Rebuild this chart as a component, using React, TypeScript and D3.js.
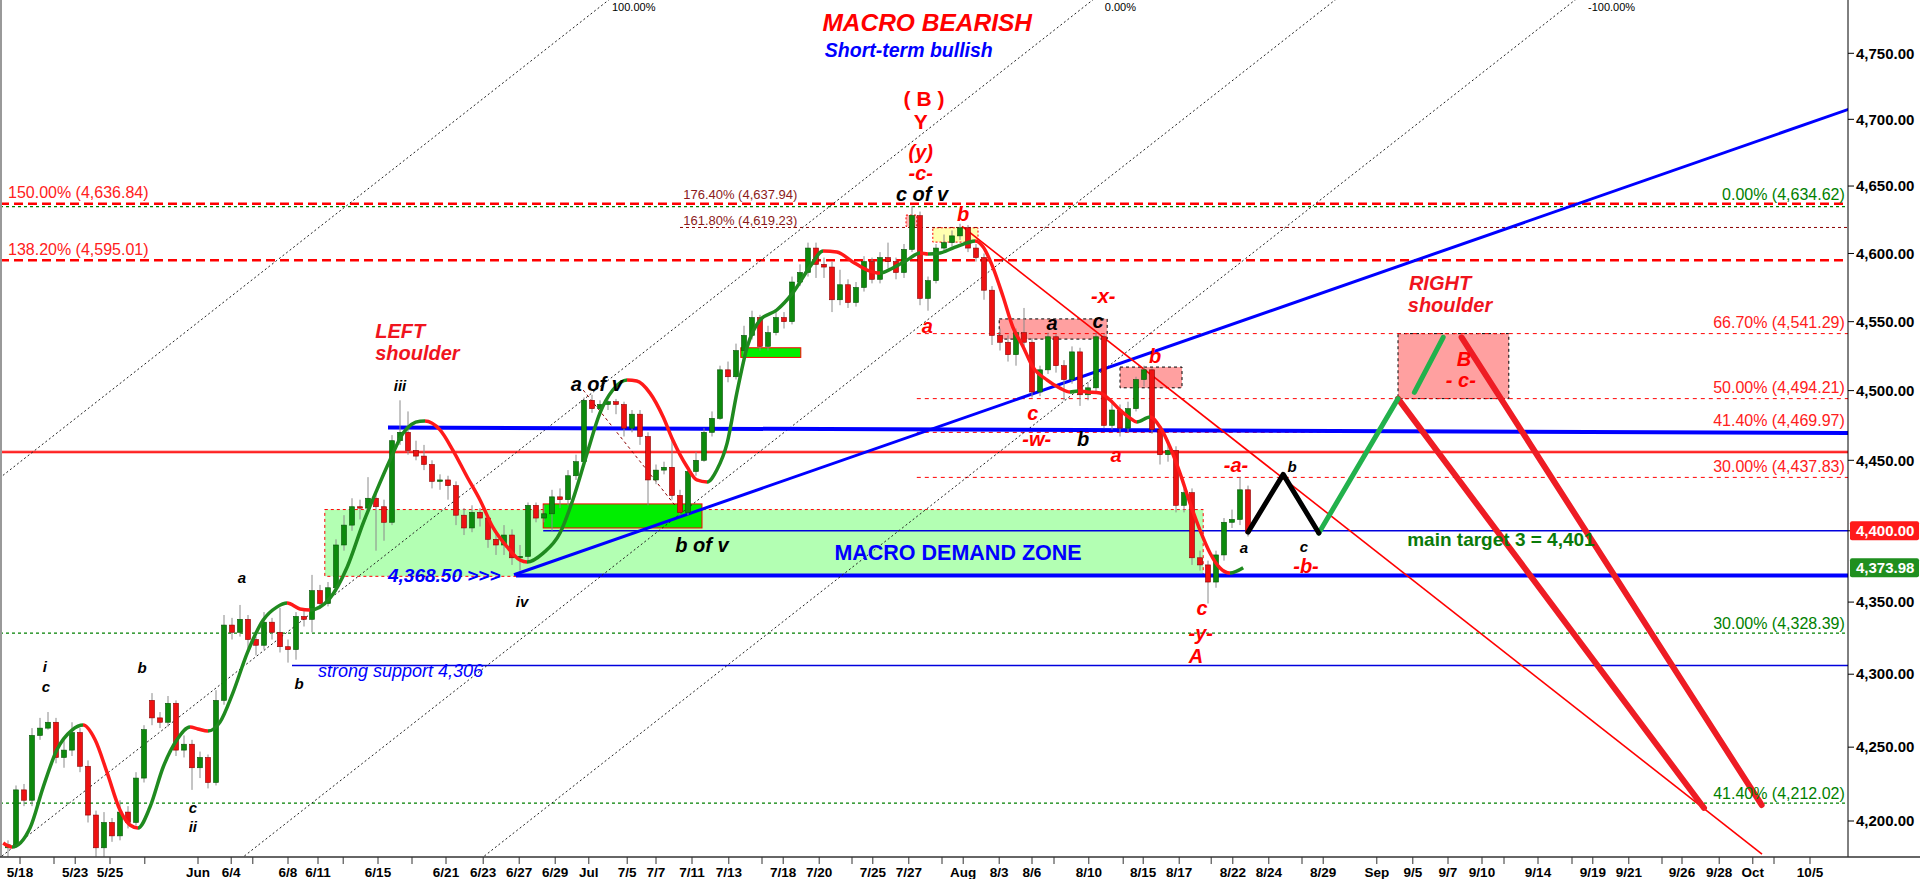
import React, { useEffect, useRef } from 'react';
import * as d3 from 'd3';

// ---- data ----
// candles, one per slot: [open, high, low, close]
const candles: [number, number, number, number][] = [
  [4182, 4187, 4176, 4184], [4184, 4224, 4182, 4221], [4221, 4225, 4210, 4214], [4214, 4263, 4210, 4258],
  [4258, 4270, 4255, 4263], [4263, 4274, 4262, 4267], [4267, 4270, 4239, 4243], [4243, 4255, 4236, 4248],
  [4248, 4267, 4244, 4260], [4260, 4263, 4233, 4237], [4237, 4241, 4199, 4204], [4204, 4207, 4176, 4182],
  [4182, 4206, 4176, 4199], [4199, 4202, 4186, 4190], [4190, 4214, 4187, 4206], [4206, 4210, 4195, 4199],
  [4199, 4233, 4197, 4229], [4229, 4265, 4226, 4262], [4282, 4287, 4265, 4270], [4270, 4274, 4263, 4267],
  [4267, 4285, 4264, 4280], [4280, 4282, 4244, 4248], [4248, 4258, 4243, 4252], [4252, 4255, 4221, 4236],
  [4236, 4247, 4229, 4243], [4243, 4245, 4222, 4226], [4226, 4289, 4224, 4282], [4282, 4341, 4279, 4334],
  [4334, 4339, 4324, 4329], [4329, 4348, 4326, 4338], [4338, 4341, 4318, 4324], [4324, 4326, 4313, 4320],
  [4320, 4343, 4317, 4336], [4336, 4339, 4324, 4329], [4329, 4346, 4315, 4319], [4319, 4324, 4308, 4317],
  [4317, 4343, 4310, 4340], [4340, 4345, 4333, 4338], [4338, 4369, 4329, 4358], [4358, 4362, 4346, 4349],
  [4349, 4364, 4347, 4360], [4360, 4394, 4357, 4390], [4390, 4411, 4386, 4404], [4404, 4423, 4400, 4417],
  [4417, 4422, 4408, 4416], [4416, 4438, 4415, 4423], [4423, 4429, 4386, 4417], [4417, 4422, 4393, 4406],
  [4406, 4468, 4404, 4464], [4464, 4493, 4461, 4470], [4470, 4485, 4454, 4457], [4457, 4464, 4450, 4453],
  [4453, 4461, 4443, 4447], [4447, 4450, 4430, 4435], [4435, 4440, 4429, 4436], [4436, 4439, 4422, 4432],
  [4432, 4435, 4404, 4411], [4411, 4416, 4397, 4402], [4402, 4418, 4399, 4413], [4413, 4416, 4403, 4409],
  [4409, 4411, 4388, 4394], [4394, 4399, 4383, 4390], [4390, 4404, 4383, 4397], [4397, 4401, 4376, 4381],
  [4381, 4390, 4372, 4382], [4382, 4420, 4379, 4418], [4418, 4420, 4406, 4409], [4409, 4418, 4406, 4412],
  [4412, 4429, 4400, 4424], [4424, 4430, 4416, 4422], [4422, 4443, 4418, 4439], [4439, 4454, 4436, 4449],
  [4449, 4495, 4446, 4493], [4493, 4497, 4484, 4487], [4487, 4493, 4485, 4490], [4490, 4493, 4486, 4492],
  [4492, 4494, 4483, 4490], [4490, 4492, 4467, 4473], [4473, 4486, 4470, 4483], [4483, 4486, 4461, 4467],
  [4467, 4470, 4418, 4436], [4436, 4447, 4433, 4443], [4443, 4449, 4440, 4445], [4445, 4467, 4422, 4425],
  [4425, 4429, 4411, 4413], [4413, 4445, 4411, 4442], [4442, 4456, 4439, 4450], [4450, 4473, 4449, 4470],
  [4470, 4485, 4467, 4480], [4480, 4518, 4479, 4515], [4515, 4521, 4506, 4510], [4510, 4534, 4508, 4529],
  [4529, 4547, 4526, 4540], [4540, 4558, 4537, 4553], [4553, 4555, 4529, 4532], [4532, 4547, 4529, 4542],
  [4542, 4558, 4540, 4553], [4553, 4557, 4545, 4550], [4550, 4583, 4548, 4579], [4579, 4592, 4576, 4586],
  [4586, 4608, 4583, 4604], [4604, 4608, 4582, 4592], [4592, 4597, 4582, 4590], [4590, 4594, 4557, 4566],
  [4566, 4588, 4562, 4577], [4577, 4581, 4560, 4564], [4564, 4579, 4561, 4575], [4575, 4598, 4572, 4594],
  [4594, 4597, 4578, 4581], [4581, 4601, 4578, 4597], [4597, 4608, 4589, 4594], [4594, 4597, 4581, 4586],
  [4586, 4607, 4582, 4603], [4603, 4635, 4601, 4628], [4628, 4631, 4562, 4567], [4567, 4583, 4558, 4580],
  [4580, 4607, 4578, 4604], [4604, 4614, 4601, 4608], [4608, 4617, 4605, 4613], [4613, 4622, 4610, 4619],
  [4619, 4621, 4601, 4604], [4604, 4607, 4594, 4597], [4597, 4600, 4566, 4573], [4573, 4576, 4533, 4540],
  [4540, 4545, 4529, 4535], [4535, 4540, 4521, 4526], [4526, 4545, 4518, 4542], [4542, 4560, 4532, 4535],
  [4535, 4538, 4495, 4499], [4499, 4518, 4496, 4515], [4515, 4542, 4512, 4539], [4539, 4541, 4513, 4518],
  [4518, 4522, 4493, 4508], [4508, 4532, 4505, 4528], [4528, 4531, 4489, 4497], [4497, 4506, 4493, 4502],
  [4502, 4542, 4499, 4539], [4539, 4541, 4473, 4475], [4475, 4493, 4472, 4486], [4486, 4490, 4467, 4473],
  [4473, 4492, 4470, 4487], [4487, 4510, 4485, 4508], [4508, 4518, 4503, 4515], [4515, 4516, 4469, 4472],
  [4472, 4475, 4447, 4454], [4454, 4462, 4449, 4457], [4457, 4460, 4413, 4418], [4418, 4430, 4413, 4427],
  [4427, 4430, 4376, 4381], [4381, 4386, 4372, 4376], [4376, 4379, 4349, 4364], [4364, 4386, 4360, 4383],
  [4383, 4409, 4379, 4406], [4406, 4415, 4402, 4408], [4408, 4438, 4404, 4429], [4429, 4432, 4396, 4399],
];

// smoothed trend average: [slot, value]
const avgLine: [number, number][] = [
  [-0.6, 4185.2], [0.5, 4182.5], [2.75, 4195.3], [4.4, 4222.9], [6.1, 4248.1], [8, 4261.7], [9.4, 4265.1],
  [10.9, 4254.9], [12.4, 4232.5], [14, 4207.4], [15.25, 4197.3], [16.25, 4195.3], [17.75, 4209.4],
  [19.4, 4236.5], [21.1, 4254.9], [22.75, 4263.7], [23.75, 4262.4], [25, 4261], [26.5, 4267.1],
  [28.1, 4287], [29.9, 4314.6], [31.9, 4337.5], [33.6, 4346.5], [34.9, 4349.3], [36.5, 4345.2],
  [37.75, 4344.5], [40.25, 4352.8], [42.4, 4374.5], [44.4, 4405.5], [46.1, 4428.8], [47.75, 4450.2],
  [49.4, 4469.5], [51.5, 4478], [52.1, 4478.1], [54, 4471.7], [55.6, 4457.3], [57.4, 4438.1], [59, 4421.8],
  [60.6, 4402.6], [62.4, 4388.6], [64, 4379.4], [64.9, 4378], [66.9, 4384.3], [69, 4398.4], [70.6, 4421.8],
  [72.4, 4455.2], [74, 4483.9], [75.6, 4500.4], [77.4, 4507.6], [78.6, 4506.9], [80.25, 4498.2],
  [81.9, 4481], [83.1, 4464.5], [84.9, 4445.2], [86.1, 4436], [87.4, 4434.6], [88.6, 4443.1],
  [89.9, 4462.4], [91.1, 4498.2], [92.4, 4531.6], [94, 4551.2], [96.1, 4558.5], [98.1, 4571],
  [100.25, 4590.3], [101.9, 4601.8], [103.6, 4601.1], [105.6, 4593.8], [107.4, 4587.8], [109, 4585.6],
  [110.6, 4589.3], [112.4, 4595.2], [114, 4600.4], [115, 4599.7], [116.5, 4600.4], [118.1, 4604],
  [119.9, 4607.8], [120.9, 4609.2], [121.9, 4604.8], [123.1, 4590], [124.4, 4568], [125.6, 4546.1],
  [126.9, 4531.6], [128.1, 4517.1], [129.9, 4507.6], [131.5, 4501.8], [132.75, 4499], [133.75, 4499.7],
  [134.9, 4499], [136.5, 4498.2], [137.75, 4493.2], [139, 4486], [140.25, 4480.2], [141.1, 4477.4],
  [142.75, 4481], [144, 4473.8], [145.25, 4459.5], [146.5, 4440.9], [147.75, 4419.6], [149, 4400.5],
  [150.25, 4384.4], [151.5, 4373.8], [152.75, 4370.3], [154.4, 4373.98],
];

const xTicks: [string, number][] = [
  ['5/18', 1.5], ['', 5.75], ['5/23', 8.4], ['5/25', 12.75], ['', 17.1], ['Jun', 23.75], ['6/4', 27.9],
  ['', 30.6], ['6/8', 35], ['6/11', 38.75], ['', 41.9], ['6/15', 46.25], ['', 50.5], ['6/21', 54.75],
  ['6/23', 59.4], ['6/27', 63.9], ['6/29', 68.4], ['Jul', 72.6], ['7/5', 77.4], ['7/7', 81], ['7/11', 85.5],
  ['7/13', 90.1], ['', 94.25], ['7/18', 96.9], ['7/20', 101.4], ['', 105.5], ['7/25', 108.1], ['7/27', 112.6],
  ['', 116.75], ['Aug', 119.4], ['8/3', 123.9], ['8/6', 128], ['', 130.75], ['8/10', 135.1], ['', 139.4],
  ['8/15', 141.9], ['8/17', 146.4], ['', 150.4], ['8/22', 153.1], ['8/24', 157.6], ['', 161.75],
  ['8/29', 164.4], ['Sep', 171.1], ['9/5', 175.6], ['9/7', 180], ['9/10', 184.25], ['', 187],
  ['9/14', 191.25], ['', 195.5], ['9/19', 198.1], ['9/21', 202.6], ['', 206.75], ['9/26', 209.25],
  ['9/28', 213.9], ['Oct', 218.1], ['', 220.75], ['10/5', 225.25],
];

const yTicks = [4200, 4250, 4300, 4350, 4400, 4450, 4500, 4550, 4600, 4650, 4700, 4750];

// horizontal levels: [value, starting slot, kind]
const levels: [number, number, string][] = [
  [4636.84, -1, 'redDash'], [4595.01, -1, 'redDash'], [4634.62, -1, 'greenDot'],
  [4328.39, -1, 'greenDot'], [4212.02, -1, 'greenDot'], [4619.23, 84, 'darkDot'],
  [4541.29, 113.6, 'redThin'], [4494.21, 113.6, 'redThin'], [4469.97, 113.6, 'redThin'],
  [4437.83, 113.6, 'redThin'], [4456, -1, 'redSolid'], [4400, 66.9, 'blueThin'],
  [4368.5, 63.5, 'blueThick'], [4306, 35.5, 'blueThin'],
];

// zones: [slot from, slot to, top value, bottom value, kind]
const zones: [number, number, number, number, string][] = [
  [39.6, 149.4, 4415, 4368, 'demand'], [66.9, 86.75, 4419, 4402, 'bright'],
  [91.6, 99.1, 4531, 4524, 'bright'], [123.9, 137.4, 4552, 4537.3, 'pink'],
  [139, 146.75, 4517, 4502, 'pink'], [173.75, 187.6, 4541.29, 4494.21, 'pink'],
  [112.25, 113.6, 4628.4, 4620, 'pinkRed'], [115.6, 121.25, 4619, 4608.4, 'yellow'],
];

// straight lines: [[slot, value], [slot, value], kind]
const segments: [[number, number], [number, number], string][] = [
  [[77, 4800], [-62.8, 4170], 'grayDot'], [[137.5, 4800], [-2.3, 4170], 'grayDot'],
  [[167.8, 4800], [28, 4170], 'grayDot'], [[197.8, 4800], [58, 4170], 'grayDot'],
  [[71.9, 4500.4], [83.4, 4417.8], 'darkDot'],
  [[47.5, 4473.5], [230, 4469.5], 'blueThick'],
  [[63.25, 4369.1], [230.1, 4707.6], 'blueMed'],
  [[119.25, 4620], [219.25, 4177.8], 'redTrend'],
];

// projected path
const blackPath: [number, number][] = [[155, 4399], [159.4, 4440], [163.85, 4398.4]];
const greenLegs: [[number, number], [number, number]][] = [
  [[163.85, 4398.4], [173.75, 4494.2]], [[175.8, 4498.7], [179.4, 4538.6]],
];
const redLegs: [[number, number], [number, number]][] = [
  [[173.75, 4494.2], [212, 4208.8]], [[181.7, 4538.6], [219.2, 4210.8]],
];

const notes: { t: string; s: number; p: number; k: string; a?: string }[] = [
  { t: 'MACRO BEARISH', s: 114.9, p: 4767, k: 'title' },
  { t: 'Short-term bullish', s: 112.6, p: 4747.2, k: 'sub' },
  { t: '( B )', s: 114.5, p: 4710, k: 'big' },
  { t: 'Y', s: 114.1, p: 4692.7, k: 'big' },
  { t: '(y)', s: 114.1, p: 4670.2, k: 'red' },
  { t: '-c-', s: 114.1, p: 4654.5, k: 'red' },
  { t: 'c of v', s: 114.25, p: 4638.9, k: 'black' },
  { t: 'b', s: 119.4, p: 4624, k: 'red' },
  { t: '176.40% (4,637.94)', s: 84.4, p: 4640.3, k: 'fibDark', a: 'start' },
  { t: '161.80% (4,619.23)', s: 84.4, p: 4621, k: 'fibDark', a: 'start' },
  { t: '150.00% (4,636.84)', s: 0, p: 4641.1, k: 'fibRed', a: 'start' },
  { t: '138.20% (4,595.01)', s: 0, p: 4598.9, k: 'fibRed', a: 'start' },
  { t: '0.00% (4,634.62)', s: 229.6, p: 4639.6, k: 'fibGreen', a: 'end' },
  { t: '66.70% (4,541.29)', s: 229.6, p: 4545.4, k: 'fibRed', a: 'end' },
  { t: '50.00% (4,494.21)', s: 229.6, p: 4498.2, k: 'fibRed', a: 'end' },
  { t: '41.40% (4,469.97)', s: 229.6, p: 4474.5, k: 'fibRed', a: 'end' },
  { t: '30.00% (4,437.83)', s: 229.6, p: 4441.7, k: 'fibRed', a: 'end' },
  { t: '30.00% (4,328.39)', s: 229.6, p: 4331.3, k: 'fibGreen', a: 'end' },
  { t: '41.40% (4,212.02)', s: 229.6, p: 4214.8, k: 'fibGreen', a: 'end' },
  { t: 'RIGHT', s: 179, p: 4573.1, k: 'shoulder' },
  { t: 'shoulder', s: 180.25, p: 4557, k: 'shoulder' },
  { t: 'B', s: 182, p: 4517.8, k: 'red' },
  { t: '- c-', s: 181.6, p: 4502.6, k: 'red' },
  { t: 'main target 3 = 4,401', s: 174.9, p: 4389.3, k: 'target', a: 'start' },
  { t: 'b', s: 160.5, p: 4441.7, k: 'small' },
  { t: 'c', s: 162, p: 4385.1, k: 'small' },
  { t: '-b-', s: 162.25, p: 4370.3, k: 'red' },
  { t: 'a', s: 154.5, p: 4384.4, k: 'small' },
  { t: '-a-', s: 153.5, p: 4441.7, k: 'red' },
  { t: 'c', s: 149.25, p: 4341, k: 'red' },
  { t: '-y-', s: 149.1, p: 4323.6, k: 'red' },
  { t: 'A', s: 148.5, p: 4307.7, k: 'red' },
  { t: '-x-', s: 136.9, p: 4563.6, k: 'red' },
  { t: 'a', s: 130.5, p: 4543.9, k: 'black' },
  { t: 'c', s: 136.25, p: 4545.3, k: 'black' },
  { t: 'b', s: 143.4, p: 4520, k: 'red' },
  { t: 'a', s: 114.9, p: 4541.7, k: 'red' },
  { t: 'c', s: 128.1, p: 4478.8, k: 'red' },
  { t: '-w-', s: 128.6, p: 4460.2, k: 'red' },
  { t: 'b', s: 134.4, p: 4460.2, k: 'black' },
  { t: 'a', s: 138.5, p: 4448.8, k: 'red' },
  { t: 'MACRO DEMAND ZONE', s: 118.75, p: 4379.4, k: 'zone' },
  { t: 'b of v', s: 86.75, p: 4385.1, k: 'black' },
  { t: 'a of v', s: 73.6, p: 4499.7, k: 'black' },
  { t: 'iii', s: 49, p: 4499.7, k: 'small' },
  { t: 'LEFT', s: 45.9, p: 4538.1, k: 'shoulder', a: 'start' },
  { t: 'shoulder', s: 45.9, p: 4522.1, k: 'shoulder', a: 'start' },
  { t: '4,368.50 >>>', s: 47.5, p: 4364, k: 'blueNote', a: 'start' },
  { t: 'iv', s: 64.25, p: 4346.6, k: 'small' },
  { t: 'a', s: 29.25, p: 4363.3, k: 'small' },
  { t: 'b', s: 36.4, p: 4289.8, k: 'small' },
  { t: 'strong support 4,306', s: 38.75, p: 4298.1, k: 'support', a: 'start' },
  { t: 'i', s: 4.6, p: 4301.5, k: 'small' },
  { t: 'c', s: 4.75, p: 4287.7, k: 'small' },
  { t: 'b', s: 16.75, p: 4300.8, k: 'small' },
  { t: 'c', s: 23.1, p: 4205.4, k: 'small' },
  { t: 'ii', s: 23.1, p: 4192.6, k: 'small' },
  { t: '100.00%', s: 75.5, p: 4782, k: 'chan', a: 'start' },
  { t: '0.00%', s: 137.1, p: 4782, k: 'chan', a: 'start' },
  { t: '-100.00%', s: 197.5, p: 4782, k: 'chan', a: 'start' },
];

// ---- styles ----
const W = 1920;
const H = 879;
const PLOT_R = 1848;
const PLOT_B = 857;
const FONT = '"Liberation Sans", Arial, sans-serif';
const RED = '#ff0000';
const BLUE = '#0000ff';
const GREEN = '#1f8a1f';

const textStyle: Record<string, { fill: string; size: number; bold?: boolean; italic?: boolean }> = {
  title: { fill: RED, size: 24.5, bold: true, italic: true },
  sub: { fill: BLUE, size: 19.5, bold: true, italic: true },
  big: { fill: RED, size: 21, bold: true },
  red: { fill: RED, size: 20, bold: true, italic: true },
  black: { fill: '#000', size: 20, bold: true, italic: true },
  small: { fill: '#000', size: 15, bold: true, italic: true },
  shoulder: { fill: '#f0141e', size: 20, bold: true, italic: true },
  fibRed: { fill: '#ff2020', size: 16 },
  fibDark: { fill: '#8b1a1a', size: 13 },
  fibGreen: { fill: '#008000', size: 16 },
  zone: { fill: BLUE, size: 21.5, bold: true },
  blueNote: { fill: BLUE, size: 19, bold: true, italic: true },
  support: { fill: BLUE, size: 18, italic: true },
  target: { fill: '#0a7a0a', size: 19, bold: true },
  chan: { fill: '#000', size: 11 },
};

const lineStyle: Record<string, { stroke: string; width: number; dash?: string }> = {
  redDash: { stroke: RED, width: 2.5, dash: '9,5' },
  greenDot: { stroke: '#008000', width: 1.2, dash: '3,3' },
  darkDot: { stroke: '#8b0000', width: 1, dash: '3,3' },
  redThin: { stroke: RED, width: 1, dash: '4,4' },
  redSolid: { stroke: '#ff0000', width: 2.5 },
  redTrend: { stroke: '#ff0000', width: 1.6 },
  blueThin: { stroke: '#0000dd', width: 1.5 },
  blueThick: { stroke: BLUE, width: 4 },
  blueMed: { stroke: BLUE, width: 3 },
  grayDot: { stroke: '#222', width: 1, dash: '2,2.5' },
};

const zoneStyle: Record<string, { fill: string; stroke: string; dash?: string }> = {
  demand: { fill: '#b3ffb3', stroke: RED, dash: '3,3' },
  bright: { fill: '#00ee00', stroke: RED },
  pink: { fill: '#ffa0a0', stroke: '#000', dash: '3,3' },
  pinkRed: { fill: '#ffb0b0', stroke: RED, dash: '2,2' },
  yellow: { fill: '#ffffb0', stroke: RED, dash: '2,2' },
};

const App: React.FC = () => {
  const svgRef = useRef<SVGSVGElement>(null);

  useEffect(() => {
    if (!svgRef.current) return;
    document.body.style.margin = '0';
    const svg = d3.select(svgRef.current);
    svg.selectAll('*').remove();

    const x = d3.scaleLinear().domain([-1, 230]).range([0, PLOT_R]);
    const y = d3.scaleLog().domain([4200, 4750]).range([821, 53.3]);

    const defs = svg.append('defs');
    defs.append('clipPath').attr('id', 'plot')
      .append('rect').attr('x', 0).attr('y', 0).attr('width', PLOT_R).attr('height', PLOT_B);

    svg.append('rect').attr('width', W).attr('height', H).attr('fill', '#fff');
    const g = svg.append('g').attr('clip-path', 'url(#plot)');

    // zones
    zones.forEach(([s0, s1, top, bot, kind]) => {
      const st = zoneStyle[kind];
      g.append('rect')
        .attr('x', x(s0)).attr('y', y(top))
        .attr('width', x(s1) - x(s0)).attr('height', y(bot) - y(top))
        .attr('fill', st.fill).attr('stroke', st.stroke).attr('stroke-width', 1)
        .attr('stroke-dasharray', st.dash ?? null);
    });

    // horizontal levels
    levels.forEach(([v, from, kind]) => {
      const st = lineStyle[kind];
      g.append('line')
        .attr('x1', x(from)).attr('x2', PLOT_R).attr('y1', y(v)).attr('y2', y(v))
        .attr('stroke', st.stroke).attr('stroke-width', st.width)
        .attr('stroke-dasharray', st.dash ?? null);
      if (kind === 'redSolid') {
        g.append('line')
          .attr('x1', x(from)).attr('x2', PLOT_R).attr('y1', y(v)).attr('y2', y(v))
          .attr('stroke', '#ff9090').attr('stroke-width', 0.6);
      }
    });

    // straight lines
    segments.forEach(([a, b, kind]) => {
      const st = lineStyle[kind];
      g.append('line')
        .attr('x1', x(a[0])).attr('y1', y(a[1])).attr('x2', x(b[0])).attr('y2', y(b[1]))
        .attr('stroke', st.stroke).attr('stroke-width', st.width)
        .attr('stroke-dasharray', st.dash ?? null);
    });

    // candles
    const bw = 5;
    candles.forEach(([o, h, l, c], i) => {
      const cx = x(i);
      g.append('line').attr('x1', cx).attr('x2', cx).attr('y1', y(h)).attr('y2', y(l))
        .attr('stroke', '#8a8a8a').attr('stroke-width', 1);
      const up = c >= o;
      g.append('rect')
        .attr('x', cx - bw / 2).attr('y', y(Math.max(o, c)))
        .attr('width', bw).attr('height', Math.max(1.2, Math.abs(y(o) - y(c))))
        .attr('fill', up ? '#0d8a0d' : '#ee1111')
        .attr('stroke', up ? '#065206' : '#8a0000').attr('stroke-width', 0.6);
    });

    // trend average coloured by direction
    const grad = defs.append('linearGradient').attr('id', 'avgGrad')
      .attr('gradientUnits', 'userSpaceOnUse')
      .attr('x1', 0).attr('x2', W).attr('y1', 0).attr('y2', 0);
    for (let i = 0; i < avgLine.length - 1; i++) {
      const col = avgLine[i + 1][1] >= avgLine[i][1] ? GREEN : '#ff1a1a';
      grad.append('stop').attr('offset', x(avgLine[i][0]) / W).attr('stop-color', col);
      grad.append('stop').attr('offset', x(avgLine[i + 1][0]) / W).attr('stop-color', col);
    }
    const line = d3.line<[number, number]>()
      .x(d => x(d[0])).y(d => y(d[1]))
      .curve(d3.curveMonotoneX);
    g.append('path').datum(avgLine).attr('d', line)
      .attr('fill', 'none').attr('stroke', 'url(#avgGrad)').attr('stroke-width', 3.5);

    // projected path
    const straight = d3.line<[number, number]>().x(d => x(d[0])).y(d => y(d[1]));
    redLegs.forEach(leg => {
      g.append('path').datum(leg).attr('d', straight)
        .attr('fill', 'none').attr('stroke', '#ee1c24').attr('stroke-width', 6).attr('stroke-linecap', 'round');
    });
    greenLegs.forEach(leg => {
      g.append('path').datum(leg).attr('d', straight)
        .attr('fill', 'none').attr('stroke', '#22b14c').attr('stroke-width', 5).attr('stroke-linecap', 'round');
    });
    g.append('path').datum(blackPath).attr('d', straight)
      .attr('fill', 'none').attr('stroke', '#000').attr('stroke-width', 5)
      .attr('stroke-linecap', 'round').attr('stroke-linejoin', 'round');

    // notes
    notes.forEach(n => {
      const st = textStyle[n.k];
      svg.append('text')
        .attr('x', x(n.s)).attr('y', y(n.p))
        .attr('text-anchor', n.a ?? 'middle')
        .attr('font-family', FONT).attr('font-size', st.size)
        .attr('font-weight', st.bold ? 'bold' : 'normal')
        .attr('font-style', st.italic ? 'italic' : 'normal')
        .attr('fill', st.fill)
        .text(n.t);
    });

    // left border
    svg.append('line').attr('x1', 1).attr('x2', 1).attr('y1', 0).attr('y2', PLOT_B)
      .attr('stroke', '#999').attr('stroke-width', 2);

    // value axis
    svg.append('line').attr('x1', PLOT_R).attr('x2', PLOT_R).attr('y1', 0).attr('y2', PLOT_B)
      .attr('stroke', '#000').attr('stroke-width', 1);
    const fmt = d3.format(',.2f');
    yTicks.forEach(v => {
      svg.append('line').attr('x1', PLOT_R).attr('x2', PLOT_R + 6).attr('y1', y(v)).attr('y2', y(v))
        .attr('stroke', '#000');
      svg.append('text').attr('x', PLOT_R + 8).attr('y', y(v)).attr('dy', '0.35em')
        .attr('font-family', FONT).attr('font-size', 15).attr('font-weight', 'bold')
        .attr('fill', '#000').text(fmt(v));
    });
    const tags: [number, string][] = [[4400, '#ff1a1a'], [4373.98, '#1f8f1f']];
    tags.forEach(([v, col]) => {
      svg.append('rect').attr('x', PLOT_R + 2).attr('y', y(v) - 9.5).attr('width', 69).attr('height', 19)
        .attr('rx', 2).attr('fill', col);
      svg.append('text').attr('x', PLOT_R + 8).attr('y', y(v)).attr('dy', '0.35em')
        .attr('font-family', FONT).attr('font-size', 15).attr('font-weight', 'bold')
        .attr('fill', '#fff').text(fmt(v));
    });

    // date axis
    svg.append('line').attr('x1', 0).attr('x2', W).attr('y1', PLOT_B).attr('y2', PLOT_B)
      .attr('stroke', '#333').attr('stroke-width', 1.5);
    xTicks.forEach(([label, s]) => {
      svg.append('line').attr('x1', x(s)).attr('x2', x(s)).attr('y1', PLOT_B).attr('y2', PLOT_B + 7)
        .attr('stroke', '#333');
      if (label) {
        svg.append('text').attr('x', x(s)).attr('y', PLOT_B + 20)
          .attr('text-anchor', 'middle')
          .attr('font-family', FONT).attr('font-size', 13.5).attr('font-weight', 'bold')
          .attr('fill', '#000').text(label);
      }
    });
  }, []);

  return (
    <svg
      ref={svgRef}
      width={W}
      height={H}
      style={{ display: 'block', position: 'absolute', left: 0, top: 0 }}
    />
  );
};

export default App;
